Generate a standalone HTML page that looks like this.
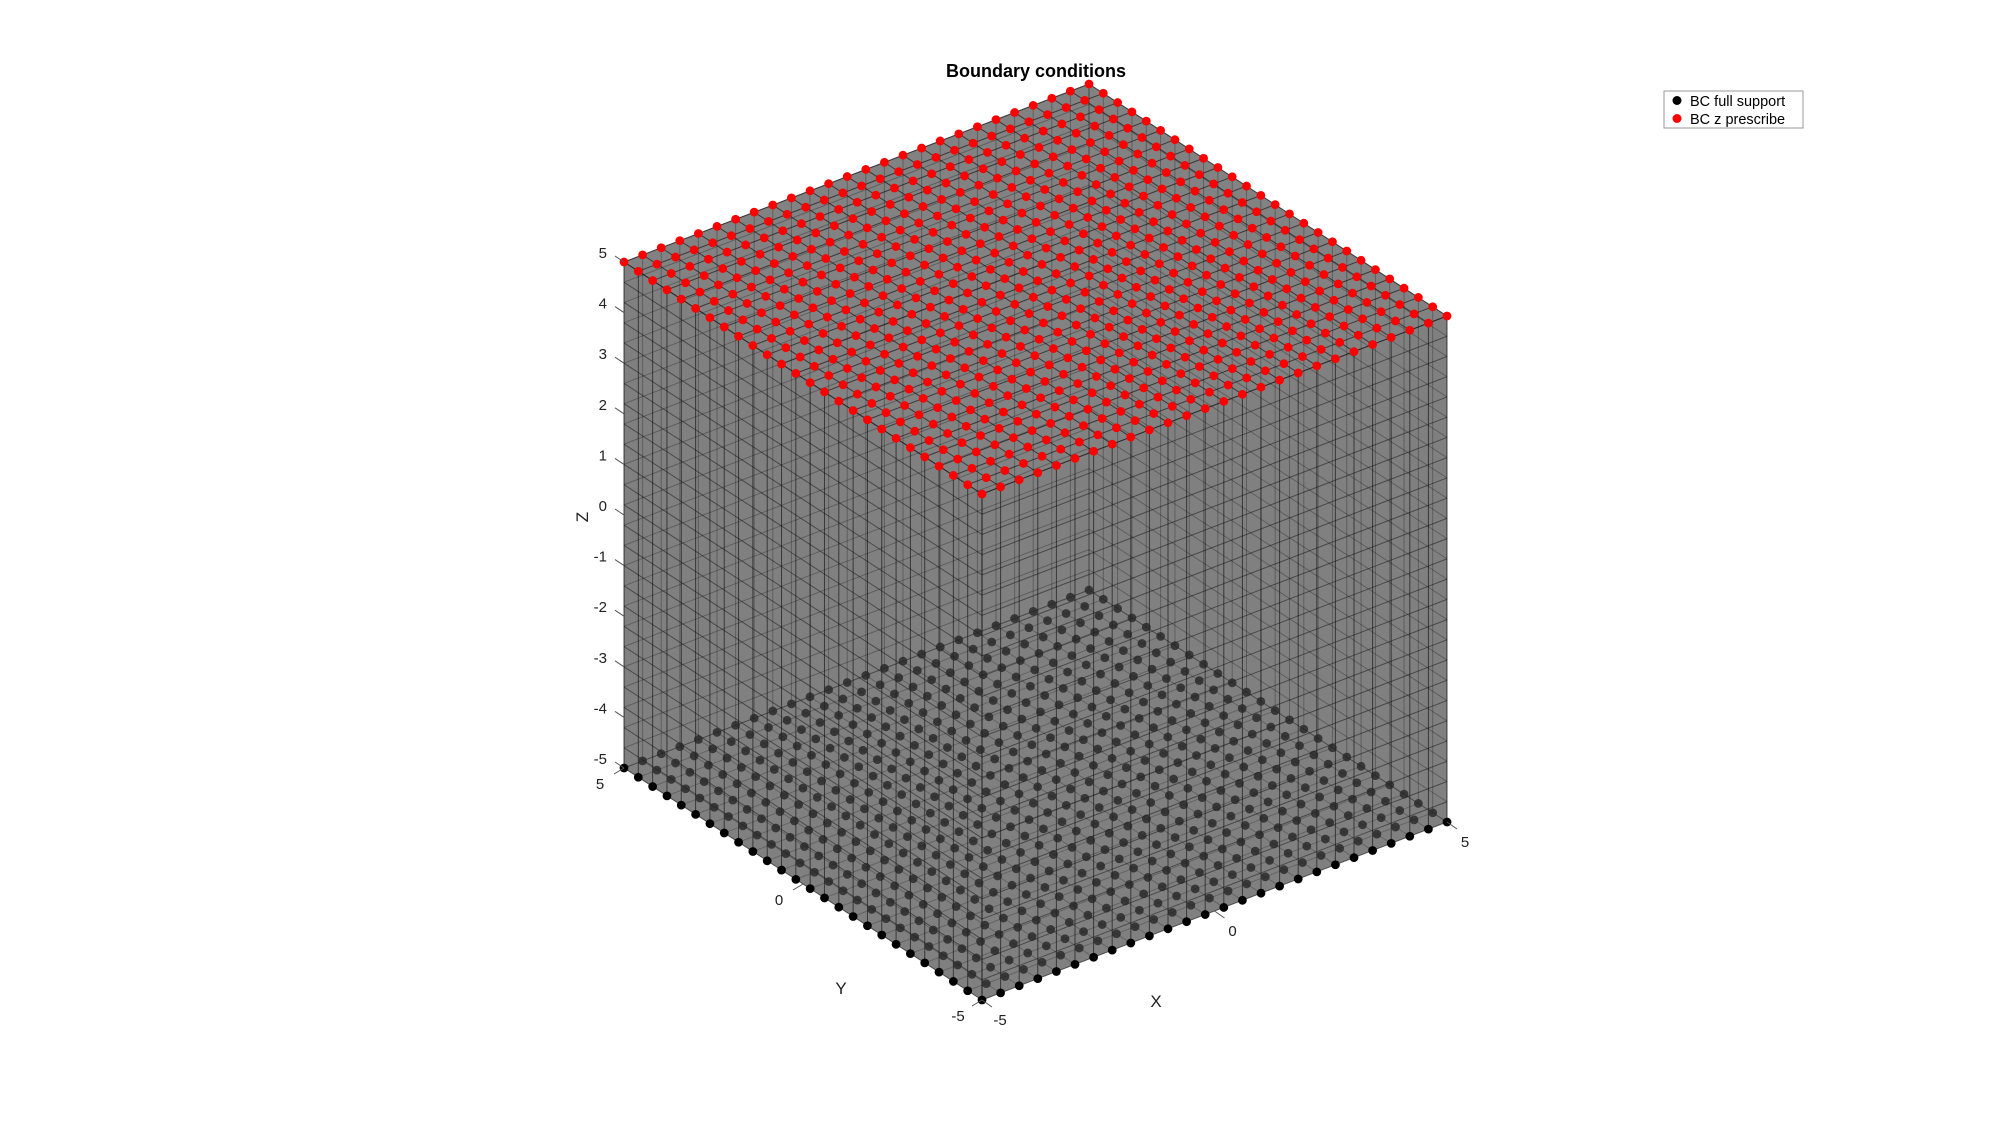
<!DOCTYPE html>
<html><head><meta charset="utf-8"><style>
html,body{margin:0;padding:0;background:#fff;}
svg{display:block;font-family:"Liberation Sans","DejaVu Sans",sans-serif;}
</style></head><body>
<svg id="chart" width="2000" height="1121" viewBox="0 0 2000 1121" xmlns="http://www.w3.org/2000/svg">
<rect width="2000" height="1121" fill="#fff"/>
<text x="1036" y="77" text-anchor="middle" font-size="18" font-weight="bold">Boundary conditions</text>
<g id="faces"></g>
<g id="grid"></g>
<g id="bottomPts"></g>
<g id="topPts"></g>
<g id="axes"></g>
<g>
<rect x="1664" y="91" width="139" height="37" fill="#fff" stroke="#999" stroke-width="1"/>
<circle cx="1677" cy="100.5" r="4.5" fill="#000"/>
<text x="1690" y="106" font-size="14.5">BC full support</text>
<circle cx="1677" cy="118.5" r="4.5" fill="#f00"/>
<text x="1690" y="124" font-size="14.5">BC z prescribe</text>
</g>
</svg>
<script>
const nodeVals = [-5,-4.6,-4.2,-3.8,-3.4,-3,-2.6,-2.2,-1.8,-1.4,-1,-0.6,-0.2,0.2,0.6,1,1.4,1.8,2.2,2.6,3,3.4,3.8,4.2,4.6,5];
const zTicks = [-5,-4,-3,-2,-1,0,1,2,3,4,5];
const xTicks = [-5,0,5];
const yTicks = [-5,0,5];
const bottomZ = [-5];
const topZ = [5];
const NS = "http://www.w3.org/2000/svg";
function P(x,y,z){
  const ox=982, oy=494;
  const px = ox + (x+5)*46.5 + (y+5)*(-35.8);
  const py = oy + (x+5)*(-17.8) + (y+5)*(-23.2) + (5-z)*50.6;
  return [px,py];
}
function el(tag,attrs,parent){const e=document.createElementNS(NS,tag);for(const k in attrs)e.setAttribute(k,attrs[k]);parent.appendChild(e);return e;}
function poly(pts){return pts.map(p=>p.join(',')).join(' ');}
const faces=document.getElementById('faces');
const lo=-5, hi=5;
let f;
f=el('polygon',{points:poly([P(lo,lo,lo),P(lo,hi,lo),P(lo,hi,hi),P(lo,lo,hi)]),fill:'#808080'},faces);


f=el('polygon',{points:poly([P(lo,lo,lo),P(hi,lo,lo),P(hi,lo,hi),P(lo,lo,hi)]),fill:'#808080'},faces);


f=el('polygon',{points:poly([P(lo,lo,hi),P(hi,lo,hi),P(hi,hi,hi),P(lo,hi,hi)]),fill:'#828282'},faces);


const grid=document.getElementById('grid');
function line(a,b,op){const l=el('line',{x1:a[0],y1:a[1],x2:b[0],y2:b[1],stroke:'#111','stroke-opacity':op,'stroke-width':1},grid);

}
nodeVals.forEach(v=>{
  line(P(v,hi,lo),P(v,hi,hi),0.3);
  line(P(hi,v,lo),P(hi,v,hi),0.3);
  line(P(lo,hi,v),P(hi,hi,v),0.3);
  line(P(hi,lo,v),P(hi,hi,v),0.3);
  line(P(v,lo,lo),P(v,hi,lo),0.25);
  line(P(lo,v,lo),P(hi,v,lo),0.25);
  line(P(lo,v,lo),P(lo,v,hi),0.65);
  line(P(v,lo,lo),P(v,lo,hi),0.65);
  line(P(lo,lo,v),P(lo,hi,v),0.5);
  line(P(lo,lo,v),P(hi,lo,v),0.5);
  line(P(v,lo,hi),P(v,hi,hi),0.65);
  line(P(lo,v,hi),P(hi,v,hi),0.65);
});
const bp=document.getElementById('bottomPts');
bottomZ.forEach(z=>nodeVals.forEach(x=>nodeVals.forEach(y=>{
  const p=P(x,y,z);
  const front=(x===lo||y===lo);
  const c=el('circle',{cx:p[0],cy:p[1],r:4.4,fill:front?'#000':'#262626','fill-opacity':front?1:0.8},bp);
  
  
})));
const tp=document.getElementById('topPts');
topZ.forEach(z=>nodeVals.forEach(x=>nodeVals.forEach(y=>{
  const p=P(x,y,z);
  const c=el('circle',{cx:p[0],cy:p[1],r:4.4,fill:'#f00'},tp);
  
  
})));
const ax=document.getElementById('axes');
function txt(s,x,y,attrs){const t=el('text',Object.assign({x:x,y:y,'font-size':15,fill:'#222','text-anchor':'middle'},attrs||{}),ax);t.textContent=s;return t;}
zTicks.forEach(z=>{
  const p=P(lo,hi,z);
  const tk=el('line',{x1:p[0],y1:p[1],x2:p[0]-9,y2:p[1]-6,stroke:'#555'},ax);
  
  
  const t=txt(String(z),p[0]-17,p[1]-4,{'text-anchor':'end'});
  
  
});
yTicks.forEach(y=>{
  const p=P(lo,y,lo);
  const tk=el('line',{x1:p[0],y1:p[1],x2:p[0]-10,y2:p[1]+6,stroke:'#555'},ax);
  
  
  const t=txt(String(y),p[0]-24,p[1]+21);
  
  
});
xTicks.forEach(x=>{
  const p=P(x,lo,lo);
  const tk=el('line',{x1:p[0],y1:p[1],x2:p[0]+10,y2:p[1]+7,stroke:'#555'},ax);
  
  
  const t=txt(String(x),p[0]+18,p[1]+25);
  
  
});
let t;
t=txt('X',1156,1007,{'font-size':17});


t=txt('Y',841,994,{'font-size':17});


t=txt('Z',0,0,{'font-size':17,transform:'translate(588,517) rotate(-90)'});


</script>
</body></html>
